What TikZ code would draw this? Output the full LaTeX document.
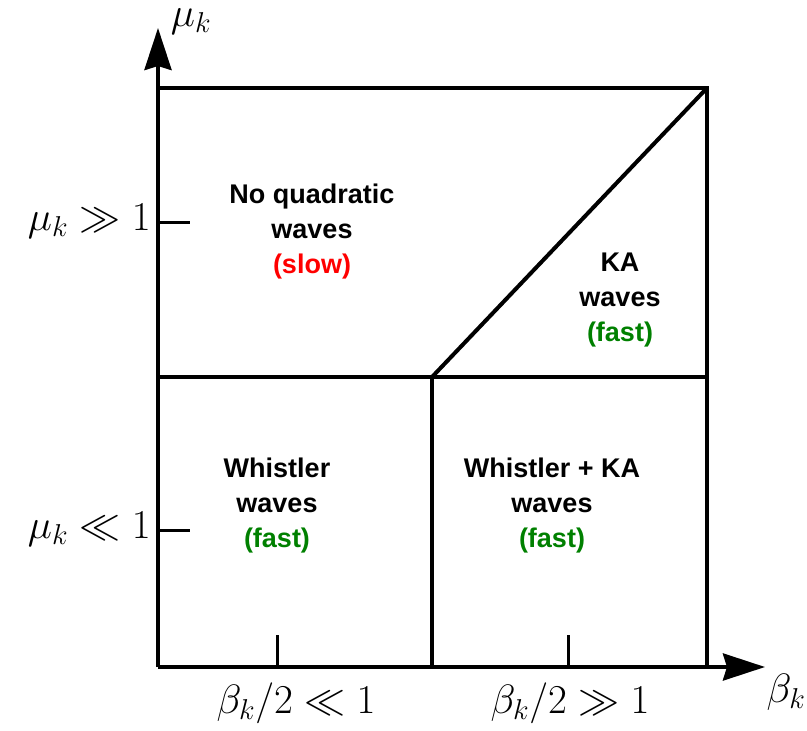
\RequirePackage{fix-cm}
\documentclass[tikz,border=0pt]{standalone}
\usepackage{fontspec}
\newfontfamily\lab{Liberation Sans}
\usetikzlibrary{arrows.meta}
\definecolor{slowred}{RGB}{255,0,0}
\definecolor{fastgreen}{RGB}{0,128,0}
\tikzset{
  frame/.style={line width=4pt},
  axis/.style={line width=4pt,-{Stealth[length=42pt,width=27pt,inset=4pt]}},
  tick/.style={line width=3pt},
  region/.style={font=\lab\bfseries\fontsize{27}{35}\selectfont,align=center},
  mlab/.style={font=\fontsize{41}{46}\selectfont,inner sep=0pt},
}
\begin{document}
\begin{tikzpicture}[x=1pt,y=-1pt]
\useasboundingbox (0,0) rectangle (807,731);
\coordinate (O) at (158,667);
\coordinate (TL) at (158,88);
\coordinate (TR) at (707,88);
\coordinate (BR) at (707,667);
\coordinate (ML) at (158,377);
\coordinate (MR) at (707,377);
\coordinate (MC) at (432,377);
\coordinate (BC) at (432,667);
\coordinate (ytip) at (158,28);
\coordinate (xtip) at (765,667);
% frame
\draw[frame] (TL) -- (TR) -- (BR);
\draw[frame] (ML) -- (MR);
\draw[frame] (MC) -- (BC);
\draw[frame] (MC) -- (TR);
% axes
\draw[axis] (O) -- (ytip);
\draw[axis] (O) -- (xtip);
% ticks
\coordinate (ty1) at (158,222); \coordinate (ty1e) at (190,222);
\coordinate (ty2) at (158,530); \coordinate (ty2e) at (190,530);
\coordinate (tx1) at (277,667); \coordinate (tx1e) at (277,635);
\coordinate (tx2) at (568,667); \coordinate (tx2e) at (568,635);
\draw[tick] (ty1) -- (ty1e);
\draw[tick] (ty2) -- (ty2e);
\draw[tick] (tx1) -- (tx1e);
\draw[tick] (tx2) -- (tx2e);
% axis labels
\node[mlab] (mu) at (191,22) {$\mu_k$};
\node[mlab] (beta) at (786,692) {$\beta_k$};
\node[mlab,anchor=east] (mugg) at (151,221) {$\mu_k \gg 1$};
\node[mlab,anchor=east] (mull) at (151,529) {$\mu_k \ll 1$};
\node[mlab] (bll) at (296,703) {$\beta_k/2 \ll 1$};
\node[mlab] (bgg) at (570,703) {$\beta_k/2 \gg 1$};
% regions
\node[region] (noq) at (312,232) {No quadratic\\waves\\\textcolor{slowred}{(slow)}};
\node[region] (ka) at (620,300) {KA\\waves\\\textcolor{fastgreen}{(fast)}};
\node[region] (wh) at (277,506) {Whistler\\waves\\\textcolor{fastgreen}{(fast)}};
\node[region] (whka) at (552,506) {Whistler + KA\\waves\\\textcolor{fastgreen}{(fast)}};
\end{tikzpicture}
\end{document}
